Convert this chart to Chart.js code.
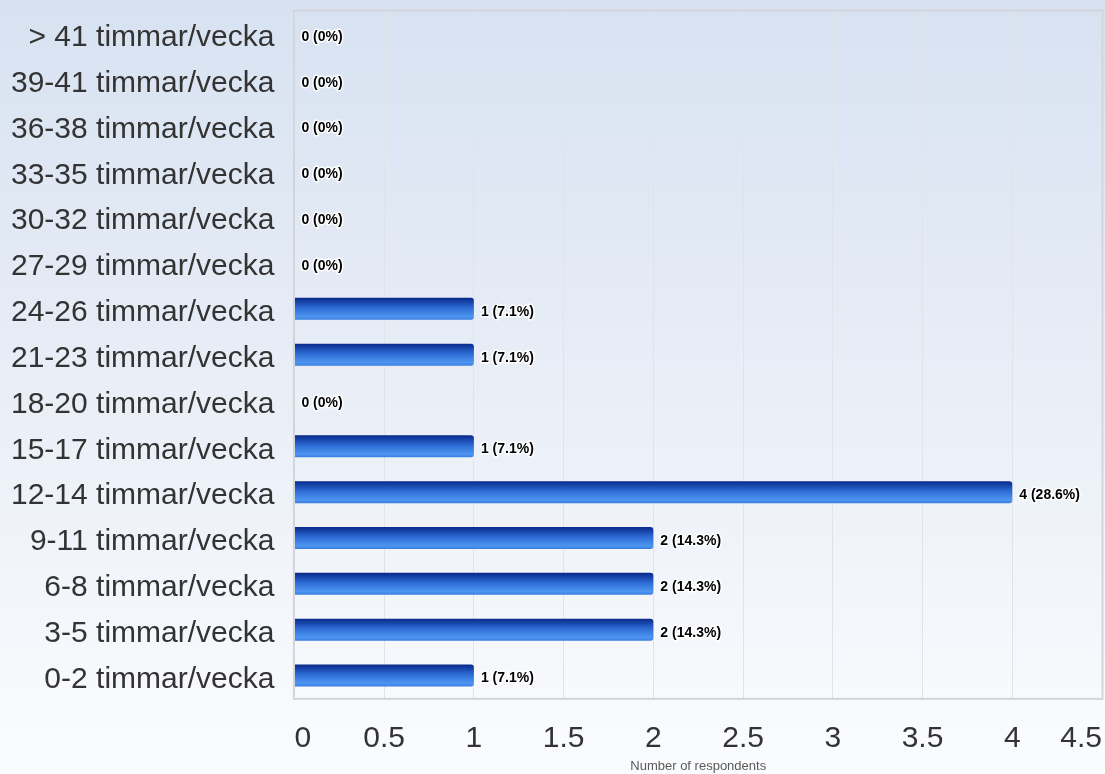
<!DOCTYPE html>
<html>
<head>
<meta charset="utf-8">
<script src="https://cdn.jsdelivr.net/npm/chart.js@4.4.1/dist/chart.umd.min.js"></script>
<style>
html,body{margin:0;padding:0;background:#fff;}
canvas{display:block;}
</style>
</head>
<body>
<canvas id="c" width="1105" height="774"></canvas>
<script>
const categories = [
  "> 41 timmar/vecka","39-41 timmar/vecka","36-38 timmar/vecka","33-35 timmar/vecka",
  "30-32 timmar/vecka","27-29 timmar/vecka","24-26 timmar/vecka","21-23 timmar/vecka",
  "18-20 timmar/vecka","15-17 timmar/vecka","12-14 timmar/vecka","9-11 timmar/vecka",
  "6-8 timmar/vecka","3-5 timmar/vecka","0-2 timmar/vecka"
];
const respondents = [0,0,0,0,0,0,1,1,0,1,4,2,2,2,1];
const xTickMin = 0, xTickMax = 4.5, xTickStep = 0.5;
const xTitle = "Number of respondents";

const total = respondents.reduce((a,b)=>a+b,0);
const FONT = '"Liberation Sans", Arial, sans-serif';

const bgPlugin = {
  id:'bg',
  beforeDraw(chart){
    const {ctx,width,height} = chart;
    const g = ctx.createLinearGradient(0,0,0,height);
    g.addColorStop(0,'#d7e2f1');
    g.addColorStop(0.5,'#e9eef7');
    g.addColorStop(1,'#fbfcfe');
    ctx.save();
    ctx.fillStyle = g;
    ctx.fillRect(0,0,width,height);
    ctx.restore();
  },
  beforeDatasetsDraw(chart){
    const ctx = chart.ctx;
    const meta = chart.getDatasetMeta(0);
    meta.data.forEach(el=>{
      const h = el.height;
      const top = el.y - h/2;
      const g = ctx.createLinearGradient(0,top,0,top+h);
      g.addColorStop(0,'#08298a');
      g.addColorStop(0.45,'#2d6bd4');
      g.addColorStop(0.85,'#4d95f0');
      g.addColorStop(1,'#3a7ee0');
      el.options.backgroundColor = g;
    });
  },
  afterDatasetsDraw(chart){
    const ctx = chart.ctx;
    const meta = chart.getDatasetMeta(0);
    ctx.save();
    ctx.font = 'bold 14px ' + FONT;
    ctx.textBaseline = 'middle';
    ctx.textAlign = 'left';
    ctx.lineJoin = 'round';
    meta.data.forEach((el,i)=>{
      const v = respondents[i];
      const pct = total ? Number((v/total*100).toFixed(1)).toString() : '0';
      const txt = v + ' (' + pct + '%)';
      const x = el.x + 7;
      const y = el.y + 3;
      ctx.strokeStyle = 'rgba(255,255,255,0.95)';
      ctx.lineWidth = 3;
      ctx.strokeText(txt,x,y);
      ctx.fillStyle = '#000';
      ctx.fillText(txt,x,y);
    });
    ctx.restore();
  },
  afterDraw(chart){
    const {ctx,chartArea:a} = chart;
    ctx.save();
    ctx.strokeStyle = '#d2d5da';
    ctx.lineWidth = 2;
    ctx.strokeRect(a.left-0.5,a.top-0.5,a.right-a.left+1,a.bottom-a.top+1);
    ctx.restore();
  }
};

new Chart(document.getElementById('c'),{
  type:'bar',
  data:{
    labels:categories,
    datasets:[{
      data:respondents,
      backgroundColor:(c)=>'#2f6fd6',
      borderWidth:0,
      borderRadius:{topLeft:0,bottomLeft:0,topRight:3,bottomRight:3},
      borderSkipped:'start',
      categoryPercentage:0.96,
      barPercentage:0.5
    }]
  },
  options:{
    indexAxis:'y',
    responsive:false,
    animation:false,
    layout:{padding:{left:11,top:11,right:3,bottom:0}},
    plugins:{legend:{display:false},tooltip:{enabled:false}},
    scales:{
      x:{
        min:xTickMin,max:xTickMax,
        afterFit(s){ s.paddingLeft = 0; s.paddingRight = 0; s.height -= s.options.ticks.padding; },
        ticks:{stepSize:xTickStep,align:'inner',color:'#333',padding:22,
          callback:(v)=>Number(v).toString(),
          font:{family:FONT,size:30}},
        grid:{color:'#e0e3e8',lineWidth:1,drawTicks:false},
        border:{display:false},
        title:{display:true,text:xTitle,color:'#595959',padding:{top:2,bottom:0},
          font:{family:FONT,size:13}}
      },
      y:{
        afterFit(s){ s.paddingTop = 0; s.paddingBottom = 0; s.width -= s.options.ticks.padding; },
        ticks:{color:'#333',padding:20,labelOffset:4,
          font:{family:FONT,size:30}},
        grid:{display:false,drawTicks:false},
        border:{display:false}
      }
    }
  },
  plugins:[bgPlugin]
});
</script>
</body>
</html>
